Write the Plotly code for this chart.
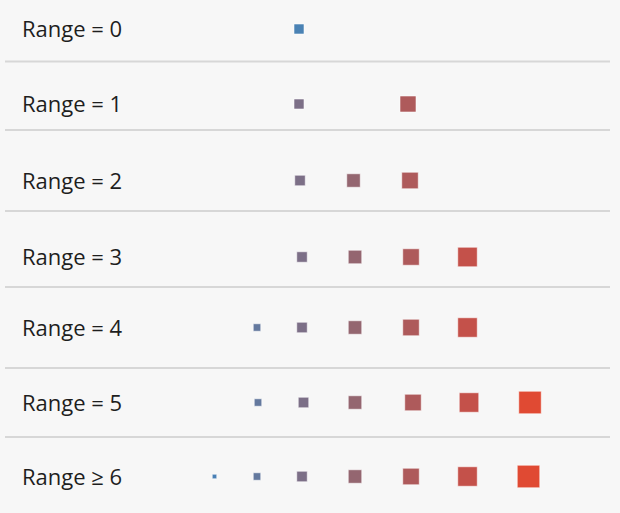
import plotly.graph_objects as go

# Row labels and the vertical centre of each row
row_labels = ["Range = 0", "Range = 1", "Range = 2", "Range = 3",
              "Range = 4", "Range = 5", "Range \u2265 6"]
row_y = [29, 104, 180.5, 257, 327.5, 402.5, 476.5]

# separator lines between rows
separator_y = [61.5, 130, 211, 287, 368, 437]

# square positions, sizes and colours per row
row_x = [
    [299],
    [299, 408],
    [300, 353.5, 410],
    [302, 355, 411, 467.5],
    [257, 302, 355, 411, 467.5],
    [258, 303.5, 355, 413, 469, 530],
    [214.5, 257, 302, 355, 411, 467.5, 528.5],
]
row_sizes = [
    [10],
    [10, 16],
    [10.5, 13.5, 16.5],
    [10.5, 13.5, 16.5, 19.5],
    [7.5, 10.5, 13.5, 16.5, 19.5],
    [7.5, 10.5, 13.5, 16.5, 19.5, 22.5],
    [4.5, 7.5, 10.5, 13.5, 16.5, 19.5, 22.5],
]
row_colors = [
    ["#4a82b4"],
    ["#7c6f87", "#ae5a5b"],
    ["#7c6f87", "#946670", "#ae5a5b"],
    ["#7c6f87", "#946670", "#ae5a5b", "#c4514a"],
    ["#64799e", "#7c6f87", "#946670", "#ae5a5b", "#c4514a"],
    ["#64799e", "#7c6f87", "#946670", "#ae5a5b", "#c4514a", "#e04a33"],
    ["#4a80b5", "#64799e", "#7c6f87", "#946670", "#ae5a5b", "#c4514a", "#e04a33"],
]

BG = "#f7f7f7"

fig = go.Figure()

for label, y, xs, sizes, colors in zip(row_labels, row_y, row_x, row_sizes, row_colors):
    fig.add_trace(go.Scatter(
        x=xs,
        y=[y] * len(xs),
        mode="markers",
        name=label,
        marker=dict(
            symbol="square",
            size=sizes,
            color=colors,
            opacity=1,  # array sizes would otherwise default to 0.7
            line=dict(width=1, color="rgba(255,255,255,0.55)"),
        ),
        hoverinfo="x+name",
        showlegend=False,
    ))

# separators
for sy in separator_y:
    fig.add_shape(type="line", x0=5, x1=610, y0=sy, y1=sy,
                  xref="x", yref="y",
                  line=dict(color="#d7d7d7", width=2))

# row labels (nudged a touch above the square centres, as in the original)
for label, y in zip(row_labels, row_y):
    fig.add_annotation(
        x=20, y=y, xref="x", yref="y",
        text=label, showarrow=False,
        xanchor="left", yanchor="middle", yshift=1,
        font=dict(family="Open Sans", size=22, color="#1e1e1e"),
    )

fig.update_layout(
    width=620,
    height=513,
    margin=dict(l=0, r=0, t=0, b=0),
    paper_bgcolor=BG,
    plot_bgcolor=BG,
    xaxis=dict(range=[0, 620], visible=False, fixedrange=True),
    yaxis=dict(range=[513, 0], visible=False, fixedrange=True),
)

# drop the browser's default body margin so the chart fills the window
fig.write_html("out.html",
               config={"displayModeBar": False},
               post_script="document.body.style.margin = '0';")
